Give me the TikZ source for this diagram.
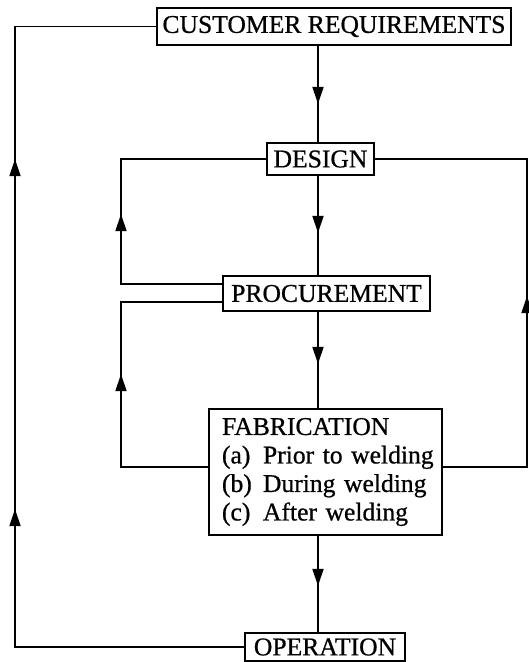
\documentclass[tikz,border=0pt]{standalone}
\usepackage{fontspec}
\setmainfont[FakeBold=0.7]{Liberation Serif}
\usetikzlibrary{arrows.meta,decorations.markings}
\begin{document}
\begin{tikzpicture}[x=1pt,y=1pt,
  box/.style={draw,line width=1.8pt,inner sep=0pt,font=\fontsize{25.6}{28.5}\selectfont},
  conn/.style={line width=1.8pt},
  tipat/.style={postaction={decorate},decoration={markings,mark=at position #1 with {\arrow{Triangle[length=17pt,width=11pt]}}}},
  tiptwo/.style 2 args={postaction={decorate},decoration={markings,
     mark=at position #1 with {\arrow{Triangle[length=17pt,width=11pt]}},
     mark=at position #2 with {\arrow{Triangle[length=17pt,width=11pt]}}}}]
\useasboundingbox (0,0) rectangle (529,-662);
\node[box,minimum width=354,minimum height=37] (cust) at (334,-26.5) {CUSTOMER REQUIREMENTS};
\node[box,minimum width=107,minimum height=32] (design) at (320.5,-159) {DESIGN};
\node[box,minimum width=207,minimum height=35] (proc) at (326.5,-293.5) {PROCUREMENT};
\node[box,minimum width=233,minimum height=126,text width=207,inner xsep=13,align=left] (fab) at (325.5,-472)
  {\mbox{FABRICATION}\\\mbox{\makebox[41pt][l]{(a)}Prior to welding}\\\mbox{\makebox[41pt][l]{(b)}During welding}\\\mbox{\makebox[41pt][l]{(c)}After welding}};
\node[box,minimum width=160,minimum height=28] (oper) at (325,-647) {OPERATION};
\coordinate (ax) at (318,0);
\coordinate (L) at (15,0);
\coordinate (LL) at (121,0);
\coordinate (R) at (527,0);
\coordinate (p1) at ([yshift=9.5pt]proc.west);
\coordinate (p2) at ([yshift=-8.5pt]proc.west);
\coordinate (f1) at ([yshift=5pt]fab.west);
\coordinate (f2) at ([yshift=5pt]fab.east);
% central flow
\draw[conn,tipat=58pt] (cust.south -| ax) -- (design.north -| ax);
\draw[conn,tipat=57pt] (design.south -| ax) -- (proc.north -| ax);
\draw[conn,tipat=52pt] (proc.south -| ax) -- (fab.north -| ax);
\draw[conn,tipat=50pt] (fab.south -| ax) -- (oper.north -| ax);
% feedback loops
\draw[conn,tiptwo={367pt}{717pt}] (oper.west) -| (L |- cust.west) -- (cust.west);
\draw[conn,tipat=171pt] (p1) -| (LL |- design.west) -- (design.west);
\draw[conn,tipat=180pt] (f1) -| (LL |- p2) -- (p2);
\draw[conn,tipat=255pt] (f2) -| (R |- design.east) -- (design.east);
\end{tikzpicture}
\end{document}
